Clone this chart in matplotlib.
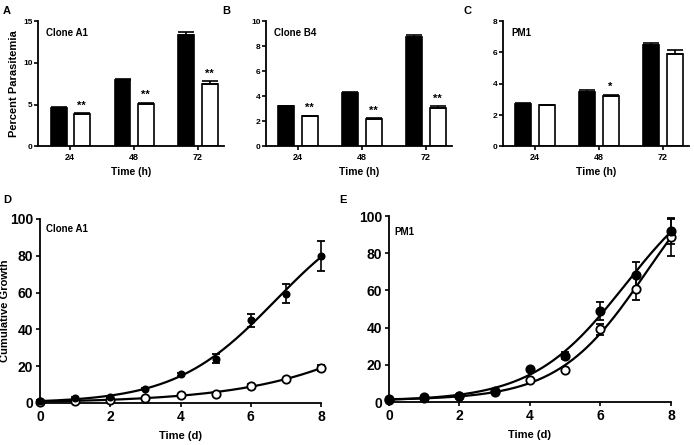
import numpy as np
import matplotlib
matplotlib.use("Agg")
import matplotlib.pyplot as plt

plt.rcParams['font.family'] = ['Liberation Sans', 'DejaVu Sans']
plt.rcParams['font.weight'] = 'bold'
plt.rcParams['axes.labelweight'] = 'bold'
plt.rcParams['axes.linewidth'] = 1.3

# --- bar panels (A, B, C) ---
hours = ['24', '48', '72']

a_ctrl = [4.6, 7.9, 13.3]
a_ctrl_err = [0.1, 0.2, 0.35]
a_trt = [3.9, 5.1, 7.5]
a_trt_err = [0.1, 0.15, 0.3]
a_sig = ['**', '**', '**']

b_ctrl = [3.2, 4.3, 8.7]
b_ctrl_err = [0.05, 0.06, 0.15]
b_trt = [2.4, 2.2, 3.1]
b_trt_err = [0.05, 0.05, 0.1]
b_sig = ['**', '**', '**']

c_ctrl = [2.7, 3.5, 6.5]
c_ctrl_err = [0.08, 0.1, 0.08]
c_trt = [2.65, 3.25, 5.9]
c_trt_err = [0.02, 0.06, 0.25]
c_sig = ['', '*', '']

# --- growth panels (D, E) ---
days = [0, 1, 2, 3, 4, 5, 6, 7, 8]

d_ctrl = [1.2, 2.5, 3.5, 7.5, 15.5, 24, 45, 59.5, 80]
d_ctrl_err = [0.3, 0.5, 0.5, 0.6, 0.8, 2.5, 3.5, 5, 8]
d_trt = [0.8, 1.2, 1.5, 2.8, 4.5, 5, 9.5, 12.8, 19]
d_trt_err = [0.2, 0.2, 0.2, 0.3, 0.4, 0.4, 0.6, 0.8, 1.5]

e_ctrl = [1.5, 2.5, 3.5, 6, 17.5, 25, 49, 68.5, 92]
e_ctrl_err = [0.3, 0.3, 0.3, 0.5, 0.8, 2, 5, 7, 7]
e_trt = [1, 2, 3, 5.5, 12, 17, 39, 61, 88.5]
e_trt_err = [0.2, 0.2, 0.2, 0.4, 0.5, 0.5, 3, 6, 10]

fig = plt.figure(figsize=(6.94, 4.45), dpi=100)


def bar_panel(rect, ctrl, cerr, trt, terr, sig, ymax, ystep, name, ylabel=None):
    ax = fig.add_axes(rect)
    x = np.arange(len(hours))
    w = 0.25
    off = 0.18
    zero = np.zeros(len(x))
    ax.bar(x - off, ctrl, w, color='black', edgecolor='black', linewidth=1.2,
           yerr=[zero, cerr], capsize=5.5, error_kw=dict(elinewidth=1.2, capthick=1.2))
    ax.bar(x + off, trt, w, color='white', edgecolor='black', linewidth=1.2,
           yerr=[zero, terr], capsize=5.5, error_kw=dict(elinewidth=1.2, capthick=1.2))
    for i in range(len(x)):
        if sig[i]:
            ax.text(x[i] + off, trt[i] + terr[i] + ymax * 0.02, sig[i],
                    ha='center', va='bottom', fontsize=8, fontweight='bold')
    ax.set_xlim(-0.5, 2.4)
    ax.set_ylim(0, ymax)
    ax.set_yticks(np.arange(0, ymax + 0.01, ystep))
    ax.set_xticks(x)
    ax.set_xticklabels(hours)
    ax.tick_params(axis='y', labelsize=6, length=3, width=1.2, pad=1)
    ax.tick_params(axis='x', labelsize=6.5, length=3, width=1.2, pad=2)
    for s in ['top', 'right']:
        ax.spines[s].set_visible(False)
    ax.set_xlabel('Time (h)', fontsize=7.5, labelpad=3)
    if ylabel:
        ax.set_ylabel(ylabel, fontsize=8)
        ax.yaxis.set_label_coords(-0.1, 0.5)
    ax.text(0.043, 0.905, name, transform=ax.transAxes, fontsize=7,
            fontweight='bold', va='center')
    return ax


bar_panel([0.0548, 0.6708, 0.2674, 0.282], a_ctrl, a_ctrl_err, a_trt, a_trt_err,
          a_sig, 15, 5, 'Clone A1', 'Percent Parasitemia')
bar_panel([0.3833, 0.6708, 0.2674, 0.282], b_ctrl, b_ctrl_err, b_trt, b_trt_err,
          b_sig, 10, 2, 'Clone B4')
bar_panel([0.7248, 0.6708, 0.2674, 0.282], c_ctrl, c_ctrl_err, c_trt, c_trt_err,
          c_sig, 8, 2, 'PM1')


def logistic_fit(t, y):
    # grid over rate/midpoint, linear least squares for bottom/top
    best = None
    for k in np.linspace(0.1, 2.0, 96):
        for x0 in np.linspace(2, 20, 181):
            s = 1 / (1 + np.exp(-k * (t - x0)))
            A = np.column_stack([np.ones_like(t), s])
            coef = np.linalg.lstsq(A, y, rcond=None)[0]
            err = np.sum((A @ coef - y) ** 2)
            if best is None or err < best[0]:
                best = (err, k, x0, coef)
    _, k, x0, coef = best
    return lambda tt: coef[0] + coef[1] / (1 + np.exp(-k * (tt - x0)))


def growth_panel(rect, ctrl, cerr, trt, terr, name, name_y, ylabel=None, ms_fill=4.5):
    ax = fig.add_axes(rect)
    t = np.array(days, dtype=float)
    tt = np.linspace(0, 8, 200)
    for y, yerr, filled in [(trt, terr, False), (ctrl, cerr, True)]:
        y = np.array(y, dtype=float)
        f = logistic_fit(t, y)
        ax.plot(tt, f(tt), color='black', lw=1.6, clip_on=False)
        ax.errorbar(t, y, yerr=yerr, fmt='o', color='black',
                    mfc='black' if filled else 'white', mec='black',
                    ms=ms_fill if filled else 6, mew=1.3, capsize=3,
                    elinewidth=1.2, capthick=1.2, clip_on=False, zorder=3)
    ax.set_xlim(0, 8)
    ax.set_ylim(0, 100)
    ax.set_xticks([0, 2, 4, 6, 8])
    ax.set_yticks([0, 20, 40, 60, 80, 100])
    ax.tick_params(labelsize=10, length=3, width=1.2, pad=2)
    for s in ['top', 'right']:
        ax.spines[s].set_visible(False)
    ax.set_xlabel('Time (d)', fontsize=8, labelpad=5)
    if ylabel:
        ax.set_ylabel(ylabel, fontsize=8)
        ax.yaxis.set_label_coords(-0.105, 0.5)
    ax.text(0.02, name_y, name, transform=ax.transAxes, fontsize=7,
            fontweight='bold', va='center')
    return ax


growth_panel([0.0576, 0.0944, 0.405, 0.4135], d_ctrl, d_ctrl_err, d_trt, d_trt_err,
             'Clone A1', 0.946, 'Cumulative Growth')
growth_panel([0.5605, 0.0966, 0.4063, 0.418], e_ctrl, e_ctrl_err, e_trt, e_trt_err,
             'PM1', 0.914, ms_fill=6)

for lbl, x, y in [('A', 7, 11), ('B', 226, 11), ('C', 467, 11), ('D', 7, 200), ('E', 343, 200)]:
    fig.text(x / 694, 1 - y / 445, lbl, fontsize=8, fontweight='bold', ha='center', va='center')

fig.savefig('out.png', dpi=100)
